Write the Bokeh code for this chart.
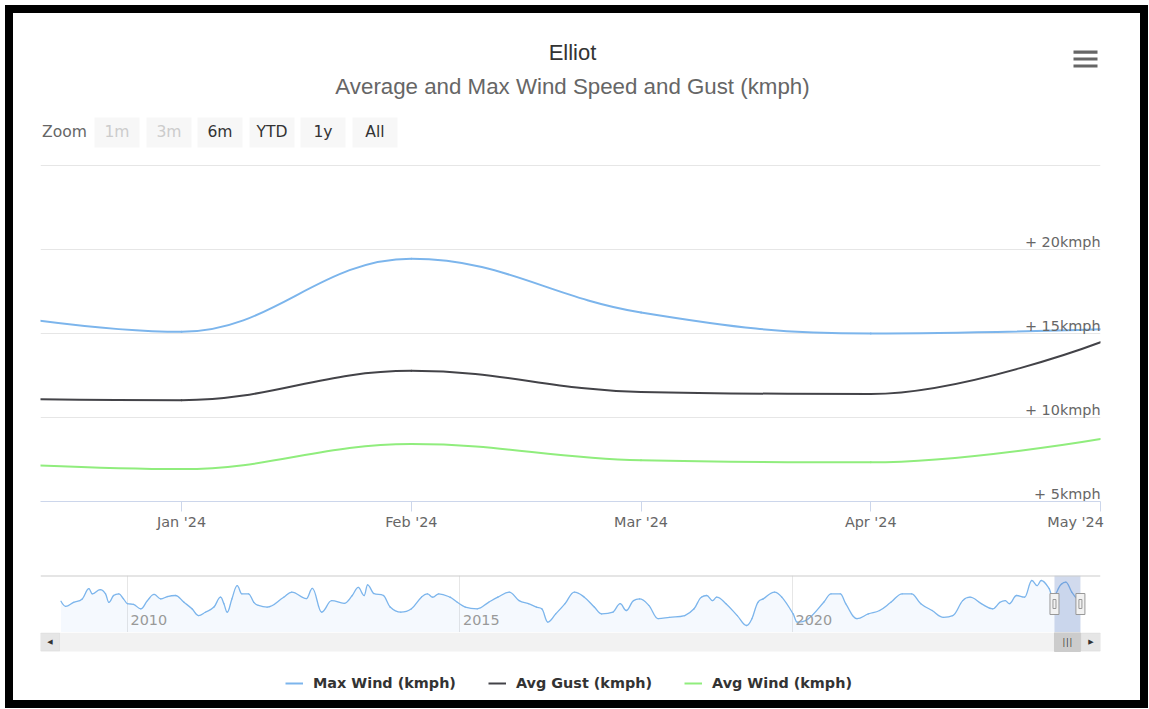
from bokeh.plotting import figure
from bokeh.layouts import column
from bokeh.models import (Range1d, FixedTicker, Label, BoxAnnotation, Legend,
                          LegendItem, Span)
from bokeh.core.properties import value
from bokeh.embed import file_html
from bokeh.resources import INLINE

# ---------------- data ----------------
title_text = "Elliot"
subtitle_text = "Average and Max Wind Speed and Gust (kmph)"

months = ["Dec '23", "Jan '24", "Feb '24", "Mar '24", "Apr '24", "May '24"]
max_wind = [16.55, 15.1, 19.45, 16.25, 15.0, 15.25]
avg_gust = [11.15, 11.03, 12.78, 11.52, 11.4, 14.48]
avg_wind = [7.4, 6.93, 8.42, 7.45, 7.33, 8.72]

y_grid_vals = [5, 10, 15, 20, 25]
y_label_vals = [5, 10, 15, 20]
y_label_text = ["+ 5kmph", "+ 10kmph", "+ 15kmph", "+ 20kmph"]

series_names = ["Max Wind (kmph)", "Avg Gust (kmph)", "Avg Wind (kmph)"]
series_colors = ["#7cb5ec", "#434348", "#90ed7d"]

zoom_buttons = ["1m", "3m", "6m", "YTD", "1y", "All"]
zoom_enabled = [False, False, True, True, True, True]

# navigator (Max Wind, whole history)
nav_year = [2009.00, 2009.07, 2009.19, 2009.32, 2009.42, 2009.47, 2009.59, 2009.67,
            2009.72, 2009.79, 2009.87, 2009.94, 2010.00, 2010.09, 2010.20, 2010.30,
            2010.40, 2010.50, 2010.60, 2010.72, 2010.85, 2010.97, 2011.07, 2011.17,
            2011.30, 2011.40, 2011.45, 2011.50, 2011.57, 2011.65, 2011.72, 2011.82,
            2011.90, 2011.97, 2012.10, 2012.35, 2012.47, 2012.69, 2012.78, 2012.92,
            2013.07, 2013.26, 2013.38, 2013.47, 2013.56, 2013.61, 2013.70, 2013.85,
            2013.95, 2014.11, 2014.27, 2014.42, 2014.51, 2014.59, 2014.68, 2014.85,
            2014.96, 2015.08, 2015.26, 2015.43, 2015.57, 2015.74, 2015.89, 2016.03,
            2016.15, 2016.23, 2016.32, 2016.44, 2016.58, 2016.72, 2016.87, 2017.02,
            2017.13, 2017.30, 2017.41, 2017.50, 2017.61, 2017.70, 2017.84, 2017.98,
            2018.15, 2018.38, 2018.52, 2018.63, 2018.71, 2018.80, 2018.86, 2019.00,
            2019.17, 2019.31, 2019.39, 2019.48, 2019.56, 2019.73, 2019.84, 2020.01,
            2020.07, 2020.24, 2020.47, 2020.58, 2020.72, 2020.80, 2020.97, 2021.14,
            2021.31, 2021.48, 2021.65, 2021.79, 2021.93, 2022.10, 2022.27, 2022.41,
            2022.56, 2022.67, 2022.84, 2023.01, 2023.12, 2023.20, 2023.26, 2023.37,
            2023.49, 2023.60, 2023.68, 2023.74, 2023.86, 2023.91, 2024.05, 2024.11,
            2024.20, 2024.28, 2024.33]
nav_max_wind = [13.8, 12.3, 13.5, 14.5, 17.5, 16.0, 17.2, 16.0,
                13.5, 15.5, 16.0, 14.5, 13.1, 12.9, 11.6, 14.0,
                15.8, 14.5, 15.2, 15.5, 13.5, 11.6, 9.6, 10.6,
                12.1, 15.0, 13.1, 10.6, 14.5, 18.4, 16.0, 16.0,
                13.5, 12.6, 12.1, 15.0, 16.5, 14.6, 17.6, 10.6,
                14.0, 13.2, 15.5, 17.9, 15.5, 18.6, 16.1, 15.5,
                12.1, 10.6, 11.6, 15.0, 16.0, 15.0, 16.0, 15.0,
                13.5, 12.1, 11.6, 13.5, 15.0, 16.5, 14.0, 13.1,
                12.1, 11.6, 7.7, 10.1, 13.1, 16.5, 15.0, 12.1,
                10.1, 10.6, 13.1, 11.1, 14.0, 14.5, 12.6, 8.7,
                9.1, 9.6, 11.6, 15.0, 15.5, 14.0, 15.0, 13.1,
                9.6, 6.7, 8.7, 13.5, 14.5, 16.5, 15.0, 10.1,
                7.7, 8.7, 13.5, 16.0, 16.0, 13.1, 8.7, 10.1,
                11.1, 13.5, 16.0, 16.0, 13.1, 11.1, 9.1, 9.6,
                14.0, 15.0, 13.1, 11.6, 13.5, 14.0, 13.1, 15.5,
                15.0, 19.9, 18.4, 19.9, 17.5, 15.0, 18.9, 19.4,
                16.5, 14.5, 14.0]
nav_year_ticks = [2010, 2015, 2020]
nav_year_labels = ["2010", "2015", "2020"]
selection = [2023.94, 2024.33]


def hc_spline(xs, ys, smoothing=1.5):
    """Highcharts-style spline: cubic bezier control points per segment."""
    denom = smoothing + 1
    n = len(xs)
    right = [None] * n
    out = dict(x0=[], y0=[], cx0=[], cy0=[], cx1=[], cy1=[], x1=[], y1=[])
    for i in range(1, n):
        px, py = xs[i], ys[i]
        lx, ly = xs[i - 1], ys[i - 1]
        if i < n - 1:
            nx, ny = xs[i + 1], ys[i + 1]
            lcx = (smoothing * px + lx) / denom
            lcy = (smoothing * py + ly) / denom
            rcx = (smoothing * px + nx) / denom
            rcy = (smoothing * py + ny) / denom
            corr = 0.0
            if rcx != lcx:
                corr = (rcy - lcy) * (rcx - px) / (rcx - lcx) + py - rcy
            lcy += corr
            rcy += corr
            if lcy > ly and lcy > py:
                lcy = max(ly, py); rcy = 2 * py - lcy
            elif lcy < ly and lcy < py:
                lcy = min(ly, py); rcy = 2 * py - lcy
            if rcy > ny and rcy > py:
                rcy = max(ny, py); lcy = 2 * py - rcy
            elif rcy < ny and rcy < py:
                rcy = min(ny, py); lcy = 2 * py - rcy
            right[i] = (rcx, rcy)
        else:
            lcx, lcy = px, py
        c0 = right[i - 1] if right[i - 1] is not None else (lx, ly)
        out["x0"].append(lx); out["y0"].append(ly)
        out["cx0"].append(c0[0]); out["cy0"].append(c0[1])
        out["cx1"].append(lcx); out["cy1"].append(lcy)
        out["x1"].append(px); out["y1"].append(py)
    return out


FONT = value("DejaVu Sans")
W = 1127
FRAME_L, FRAME_R = 27, 1087          # canvas x of plot area edges
MB_RIGHT = W - FRAME_R

# ---------------- main chart (frame also hosts the header) ----------------
idx = list(range(len(months)))
px_per_unit = 336 / (y_grid_vals[-1] - y_grid_vals[0])
y_top = y_grid_vals[-1] + 152 / px_per_unit      # header space above plot area
p1 = figure(width=W, height=547, x_range=Range1d(0.386, len(months) - 1),
            y_range=Range1d(y_grid_vals[0], y_top),
            output_backend="svg", toolbar_location=None, y_axis_location=None,
            min_border_left=FRAME_L, min_border_right=MB_RIGHT, min_border_top=0,
            min_border_bottom=59)
p1.outline_line_color = None
p1.background_fill_color = "white"
p1.border_fill_color = "white"
p1.xgrid.visible = False
p1.ygrid.ticker = FixedTicker(ticks=y_grid_vals)
p1.ygrid.grid_line_color = "#e6e6e6"

tick_idx = idx[1:]
ax = p1.xaxis[0]
ax.ticker = FixedTicker(ticks=tick_idx)
overrides = {i: months[i] for i in tick_idx}
# last label is kept inside the plot edge (right-aligned), as Highcharts does
overrides[tick_idx[-1]] = months[tick_idx[-1]] + "\u00a0" * 8
ax.major_label_overrides = overrides
ax.axis_line_color = "#ccd6eb"
ax.major_tick_line_color = "#ccd6eb"
ax.major_tick_in = 0
ax.major_tick_out = 10
ax.minor_tick_line_color = None
ax.major_label_standoff = 2
ax.major_label_text_font = "DejaVu Sans"
ax.major_label_text_font_size = "14.4px"
ax.major_label_text_color = "#666666"

renderers = []
for vals, col in zip([max_wind, avg_gust, avg_wind], series_colors):
    s = hc_spline(idx, vals)
    r = p1.bezier(line_color=col, line_width=2, line_cap="round", **s)
    renderers.append(r)

# y labels sit ~8px above their grid line
lab_shift = 8 / px_per_unit
p1.text(x=[p1.x_range.end] * len(y_label_vals), y=[v + lab_shift for v in y_label_vals],
        text=y_label_text, text_align="right", text_baseline="middle",
        text_font=FONT, text_font_size="14.4px", text_color="#666666")

p1.add_layout(Label(x=559, y=39, x_units="canvas", y_units="canvas", text=title_text,
                    text_align="center", text_baseline="middle",
                    text_font="Liberation Sans", text_font_size="22px",
                    text_color="#333333"))
p1.add_layout(Label(x=559, y=73, x_units="canvas", y_units="canvas", text=subtitle_text,
                    text_align="center", text_baseline="middle",
                    text_font="Liberation Sans", text_font_size="22.3px",
                    text_color="#666666"))

# range selector
p1.add_layout(Label(x=28.5, y=118, x_units="canvas", y_units="canvas", text="Zoom",
                    text_align="left", text_baseline="middle",
                    text_font="DejaVu Sans", text_font_size="15.6px",
                    text_color="#666666"))
btn_left = [81, 133, 184, 236, 287, 339]
for bl, txt, en in zip(btn_left, zoom_buttons, zoom_enabled):
    p1.add_layout(BoxAnnotation(left=bl, right=bl + 45, top=104, bottom=134,
                                left_units="canvas", right_units="canvas",
                                top_units="canvas", bottom_units="canvas",
                                fill_color="#f7f7f7", fill_alpha=1.0,
                                line_color=None))
    p1.add_layout(Label(x=bl + 22.5, y=118, x_units="canvas", y_units="canvas",
                        text=txt, text_align="center", text_baseline="middle",
                        text_font="DejaVu Sans", text_font_size="15.6px",
                        text_color="#333333" if en else "#cccccc"))

# export menu icon
for cy in [38.7, 45.5, 52.5]:
    p1.add_layout(BoxAnnotation(left=1060, right=1084, top=cy - 1.6, bottom=cy + 1.6,
                                left_units="canvas", right_units="canvas",
                                top_units="canvas", bottom_units="canvas",
                                fill_color="#666666", fill_alpha=1.0,
                                line_color=None))

# ---------------- navigator ----------------
nav_x = Range1d(2008.692, 2024.632)
nav_y = Range1d(4.65, 21.36)
nav_px = 57 / (nav_y.end - nav_y.start)
p2 = figure(width=W, height=72, x_range=nav_x, y_range=nav_y,
            output_backend="svg", toolbar_location=None,
            x_axis_location=None, y_axis_location=None,
            min_border_left=FRAME_L, min_border_right=MB_RIGHT, min_border_top=15,
            min_border_bottom=0)
p2.outline_line_color = None
p2.border_fill_color = "white"
p2.background_fill_color = "white"
p2.ygrid.visible = False
p2.xgrid.ticker = FixedTicker(ticks=nav_year_ticks)
p2.xgrid.grid_line_color = "#e6e6e6"

p2.varea(x=nav_year, y1=nav_y.start, y2=nav_max_wind, fill_color=series_colors[0],
         fill_alpha=0.08)
p2.bezier(line_color=series_colors[0], line_width=1.3, line_cap="round",
          **hc_spline(nav_year, nav_max_wind))
p2.text(x=nav_year_ticks, y=[nav_y.start + 13 / nav_px] * 3, text=nav_year_labels,
        x_offset=3, text_align="left", text_baseline="middle",
        text_font=FONT, text_font_size="14.4px", text_color="#999999")
p2.add_layout(Span(location=nav_y.end, dimension="width", line_color="#cccccc",
                   line_width=2))
p2.quad(left=[selection[0]], right=[selection[1]], bottom=nav_y.start,
        top=nav_y.end, fill_color="#6685c2", fill_alpha=0.3, line_color=None)
mid_y = (nav_y.start + nav_y.end) / 2
p2.rect(x=selection, y=[mid_y, mid_y], width=9, height=21, width_units="screen",
        height_units="screen", fill_color="#f2f2f2", line_color="#999999")
p2.rect(x=selection, y=[mid_y, mid_y], width=3, height=9, width_units="screen",
        height_units="screen", fill_color="#f2f2f2", line_color="#999999")

# ---------------- scrollbar + legend (one frame) ----------------
SB_H, P3_H = 19, 68
p3 = figure(width=W, height=P3_H, x_range=nav_x, y_range=Range1d(1 - P3_H / SB_H, 1),
            output_backend="svg", toolbar_location=None,
            x_axis_location=None, y_axis_location=None,
            min_border_left=FRAME_L, min_border_right=MB_RIGHT, min_border_top=0,
            min_border_bottom=0)
p3.outline_line_color = None
p3.border_fill_color = "white"
p3.background_fill_color = "white"
p3.xgrid.visible = False
p3.ygrid.visible = False
p3.quad(left=[nav_x.start], right=[nav_x.end], bottom=0, top=1,
        fill_color="#f2f2f2", line_color=None)
p3.quad(left=[selection[0]], right=[selection[1]], bottom=0, top=1,
        fill_color="#cccccc", line_color="#cccccc")
mid_x = (selection[0] + selection[1]) / 2
p3.text(x=[mid_x] * 3, y=[0.5] * 3, text=["|", "|", "|"], x_offset=[-3.5, 0, 3.5],
        text_align="center", text_baseline="middle", text_font=FONT,
        text_font_size="8px", text_color="#333333")
for l, r, arrow in [(27, 46, "◀"), (1068, 1087, "▶")]:
    p3.add_layout(BoxAnnotation(left=l, right=r, top=0.5, bottom=18.5,
                                left_units="canvas", right_units="canvas",
                                top_units="canvas", bottom_units="canvas",
                                fill_color="#e6e6e6", fill_alpha=1.0,
                                line_color="#cccccc", line_width=1))
    p3.add_layout(Label(x=(l + r) / 2, y=9.5, x_units="canvas", y_units="canvas",
                        text=arrow, text_align="center", text_baseline="middle",
                        text_font="DejaVu Sans", text_font_size="7px",
                        text_color="#333333"))

nan = float("nan")
proxies = [p3.line(x=[nan, nan], y=[nan, nan], line_color=c, line_width=2)
           for c in series_colors]
legend = Legend(items=[LegendItem(label=n, renderers=[r]) for n, r in zip(series_names, proxies)],
                location=(245, 7), orientation="horizontal",
                label_text_font="DejaVu Sans", label_text_font_size="14.4px",
                label_text_font_style="bold", label_text_color="#333333",
                glyph_width=18, glyph_height=20, label_height=20, label_standoff=10,
                spacing=32, padding=0, margin=0, border_line_color=None,
                background_fill_alpha=0)
p3.add_layout(legend, "center")

layout = column(p1, p2, p3, spacing=0,
                styles={"border": "8px solid black", "margin": "5px 0 0 5px",
                        "background-color": "white"})

open("out.html", "w").write(file_html(layout, INLINE))
